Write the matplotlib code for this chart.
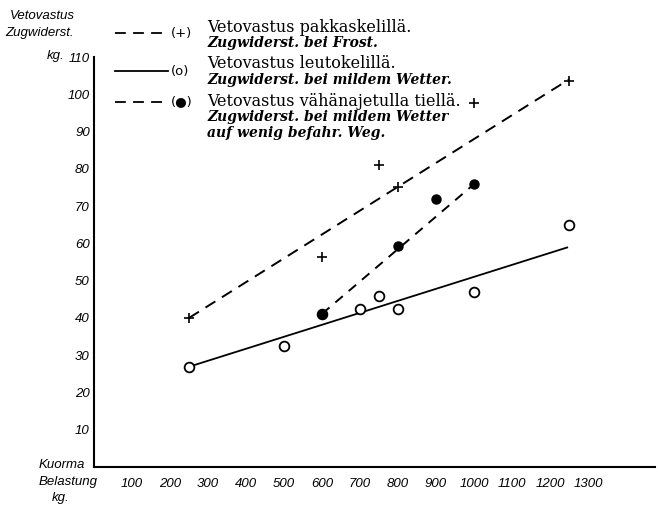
import matplotlib
matplotlib.use("Agg")
import matplotlib.pyplot as plt
from matplotlib.lines import Line2D

# ---- data ----
frost_x = [250, 600, 750, 800, 1000, 1250]
frost_y = [40.0, 56.3, 81.0, 75.1, 97.7, 103.6]
mild_x = [250, 500, 600, 700, 750, 800, 1000, 1250]
mild_y = [26.9, 32.5, 41.1, 42.4, 45.9, 42.5, 47.0, 64.9]
road_x = [600, 800, 900, 1000]
road_y = [41.1, 59.3, 71.9, 75.9]

frost_fit_x = [250, 1250]
frost_fit_y = [40.0, 104.0]
mild_fit_x = [250, 1245]
mild_fit_y = [26.9, 58.9]
road_fit_x = [600, 1000]
road_fit_y = [41.1, 75.9]

x_ticks = [100, 200, 300, 400, 500, 600, 700, 800, 900, 1000, 1100, 1200, 1300]
y_ticks = [10, 20, 30, 40, 50, 60, 70, 80, 90, 100, 110]

legend_fi = ["Vetovastus pakkaskelillä.", "Vetovastus leutokelillä.",
             "Vetovastus vähänajetulla tiellä."]
legend_de = ["Zugwiderst. bei Frost.", "Zugwiderst. bei mildem Wetter.",
             "Zugwiderst. bei mildem Wetter\nauf wenig befahr. Weg."]
legend_sym = ["(+)", "(o)", "(●)"]

W, H = 658, 511
fig = plt.figure(figsize=(W / 100, H / 100), dpi=100)
ax = fig.add_axes([94 / W, (H - 467) / H, 561 / W, 410 / H])

lab_font = dict(family=["Liberation Sans", "DejaVu Sans"], style="italic", size=9.5)

# fit lines
ax.plot(frost_fit_x, frost_fit_y, color="black", lw=1.4, dashes=(6, 4))
ax.plot(mild_fit_x, mild_fit_y, color="black", lw=1.3)
ax.plot(road_fit_x, road_fit_y, color="black", lw=1.4, dashes=(5, 4))

# points
ax.plot(frost_x, frost_y, ls="none", marker="+", ms=7, mew=1.2, color="black")
ax.plot(mild_x, mild_y, ls="none", marker="o", ms=7, mew=1.3, mfc="white", mec="black")
ax.plot(road_x, road_y, ls="none", marker="o", ms=6.5, color="black")

ax.set_xlim(0, 1476)
ax.set_ylim(0, 110)
ax.set_xticks(x_ticks)
ax.set_xticklabels([str(v) for v in x_ticks], fontdict=lab_font)
ax.set_yticks(y_ticks)
ax.set_yticklabels([str(v) for v in y_ticks], fontdict=lab_font)
ax.tick_params(length=0, pad=3)
ax.tick_params(axis="x", pad=8)
for s in ["top", "right"]:
    ax.spines[s].set_visible(False)
ax.spines["left"].set_linewidth(1.5)
ax.spines["bottom"].set_linewidth(1.5)
ax.patch.set_alpha(0)


def fx(px):
    return px / W


def fy(py):
    return 1 - py / H


# axis titles
fig.text(fx(42), fy(16), "Vetovastus", ha="center", va="center", **lab_font)
fig.text(fx(40), fy(33), "Zugwiderst.", ha="center", va="center", **lab_font)
fig.text(fx(56), fy(56), "kg.", ha="center", va="center", **lab_font)
fig.text(fx(62), fy(465), "Kuorma", ha="center", va="center", **lab_font)
fig.text(fx(68), fy(482), "Belastung", ha="center", va="center", **lab_font)
fig.text(fx(61), fy(498), "kg.", ha="center", va="center", **lab_font)

# legend
sym_y = [33, 71, 102]
styles = [dict(dashes=(6, 4)), dict(), dict(dashes=(6, 4))]
fi_y = [27, 64, 101]
de_y = [44, 81, 118]
for i in range(3):
    fig.add_artist(Line2D([fx(115), fx(168)], [fy(sym_y[i]), fy(sym_y[i])],
                          color="black", lw=1.3, **styles[i]))
    fig.text(fx(171), fy(sym_y[i]), legend_sym[i], ha="left", va="center",
             family="DejaVu Sans", size=9.5)
    fig.text(fx(207), fy(fi_y[i]), legend_fi[i], ha="left", va="center",
             family="DejaVu Serif", size=11.5)
    fig.text(fx(207), fy(de_y[i] - 8), legend_de[i], ha="left", va="top",
             family="DejaVu Serif", style="italic", weight="bold", size=10,
             linespacing=1.2)

fig.savefig("out.png", dpi=100)
